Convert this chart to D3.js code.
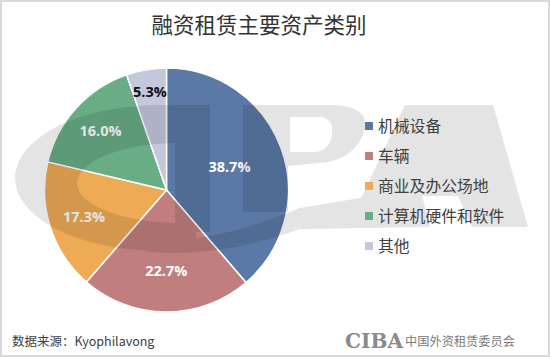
<!DOCTYPE html>
<html><head><meta charset="utf-8">
<script src="https://cdn.jsdelivr.net/npm/d3@7"></script>
<style>body{margin:0;background:#fff}svg{display:block}</style></head><body>
<svg id="c" width="550" height="357"></svg>
<script>
const categories = ["机械设备","车辆","商业及办公场地","计算机硬件和软件","其他"];
const values = [38.7, 22.7, 17.3, 16.0, 5.3];
const colors = ["#5a79a6","#c07f7e","#eeaa55","#69ad87","#c4c8dc"];
const labelColors = ["#fff","#fff","#fff","#fff","#111"];
const labelRadiusRatio = [0.55, 0.665, 0.71, 0.73, 0.82];
const titleText = "融资租赁主要资产类别";
const sourceText = "数据来源：Kyophilavong";
const orgName = "中国外资租赁委员会";
const orgMark = "CIBA";

const W = 550, H = 357;
const svg = d3.select("#c");
svg.append("rect").attr("x",1).attr("y",1).attr("width",W-2).attr("height",H-2)
  .attr("fill","#fff").attr("stroke","#d9d9d9").attr("stroke-width",2);

const cx = 166.5, cy = 190, R = 122;
const pie = d3.pie().sort(null).value(d => d);
const arcs = pie(values);
const arc = d3.arc().innerRadius(0).outerRadius(R);
const g = svg.append("g").attr("transform",`translate(${cx},${cy})`);
g.selectAll("path").data(arcs).join("path")
  .attr("d", arc).attr("fill",(d,i)=>colors[i])
  .attr("stroke","#fff").attr("stroke-width",1.5).attr("stroke-linejoin","round");

// watermark (logo shapes)
const wm = svg.append("g").attr("opacity",0.1);
svg.append("clipPath").attr("id","cclip").append("rect").attr("x",0).attr("y",0).attr("width",196).attr("height",357);
wm.append("path").attr("clip-path","url(#cclip)").attr("fill-rule","evenodd").attr("fill","#000")
  .attr("d", ellipsePath(160,178,145,73) + ellipsePath(180,183,103,40));
wm.append("path").attr("fill","#000").attr("d","M175,105H210V232H175Z");
wm.append("path").attr("fill","#000").attr("fill-rule","evenodd")
  .attr("d","M243,105H335Q372,108 364,132Q356,156 328,162L288,166V212H243Z M290,117H322Q334,120 332,134Q330,150 316,152H290Z");
wm.append("path").attr("fill","#000")
  .attr("d","M405,105H493L528,227H472L458,196H414L398,222H350Z");
wm.append("path").attr("fill","#000")
  .attr("d","M120,240Q200,250 300,208L420,188L430,227L300,229Q220,258 150,252Z");

function ellipsePath(x,y,rx,ry){
  return `M${x-rx},${y}A${rx},${ry} 0 1,0 ${x+rx},${y}A${rx},${ry} 0 1,0 ${x-rx},${y}Z`;
}

// labels
g.selectAll("text").data(arcs).join("text")
  .attr("transform",(d,i)=>{
    const a = (d.startAngle+d.endAngle)/2, r = R*labelRadiusRatio[i];
    return `translate(${Math.sin(a)*r},${-Math.cos(a)*r})`;
  })
  .attr("text-anchor","middle").attr("dy","0.36em")
  .attr("font-family","'Open Sans','Noto Sans',sans-serif").attr("font-weight",700)
  .attr("font-size",14.5).attr("fill",(d,i)=>labelColors[i])
  .text(d=>d.value.toFixed(1)+"%");

// title
svg.append("text").attr("x",259).attr("y",33).attr("text-anchor","middle")
  .attr("font-family","'Noto Sans CJK SC',sans-serif").attr("font-size",21.5)
  .attr("fill","#333").text(titleText);

// legend
const lg = svg.append("g").attr("transform","translate(365,126)");
const items = lg.selectAll("g").data(categories).join("g")
  .attr("transform",(d,i)=>`translate(0,${i*30})`);
items.append("rect").attr("x",0).attr("y",-4).attr("width",8).attr("height",8)
  .attr("fill",(d,i)=>colors[i]);
items.append("text").attr("x",13).attr("y",0).attr("dy","0.36em")
  .attr("font-family","'Noto Sans CJK SC',sans-serif").attr("font-size",15.8)
  .attr("fill","#404040").text(d=>d);

// footer
svg.append("text").attr("x",12).attr("y",346)
  .attr("font-family","'Noto Sans CJK SC',sans-serif").attr("font-size",12.5)
  .attr("fill","#404040").text(sourceText);
svg.append("text").attr("x",345).attr("y",348).attr("textLength",58).attr("lengthAdjust","spacingAndGlyphs")
  .attr("font-family","'DejaVu Serif',serif").attr("font-weight",700).attr("font-size",20)
  .attr("fill","#8a8a8a").text(orgMark);
svg.append("text").attr("x",405).attr("y",346).attr("textLength",110).attr("lengthAdjust","spacingAndGlyphs")
  .attr("font-family","'Noto Sans CJK SC',sans-serif").attr("font-size",12)
  .attr("fill","#7a7a7a").text(orgName);
</script></body></html>
